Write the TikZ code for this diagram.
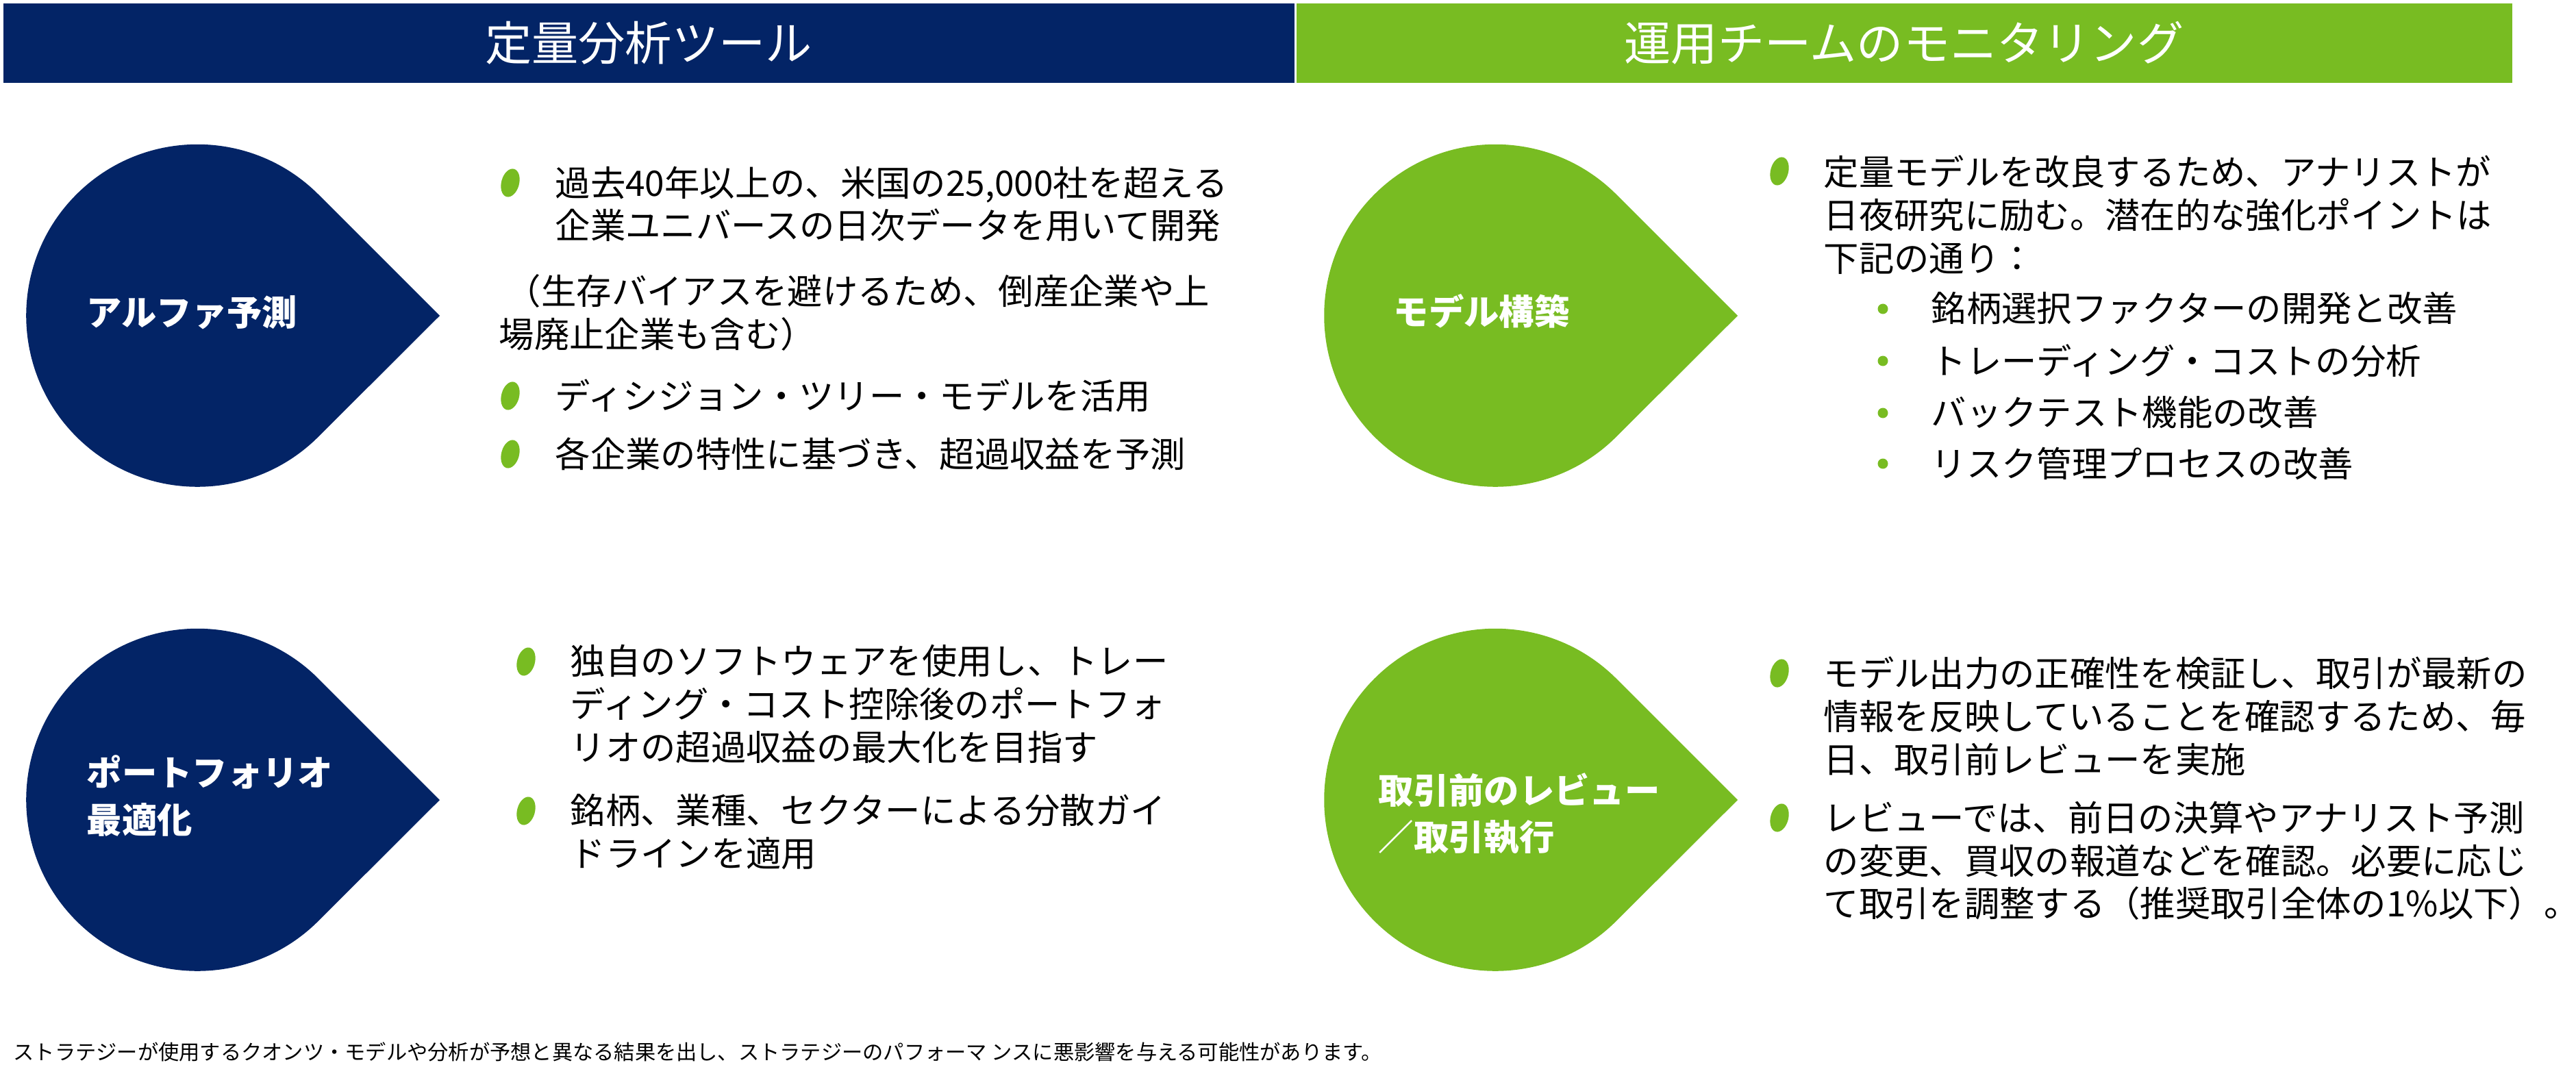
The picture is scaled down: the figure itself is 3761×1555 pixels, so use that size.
\documentclass[tikz,border=0pt]{standalone}
\usepackage{fontspec}
\setmainfont{Noto Sans CJK JP}
\usetikzlibrary{shapes.geometric}
\definecolor{navy}{HTML}{032466}
\definecolor{leafgreen}{HTML}{78BC22}
\tikzset{
  bar text/.style={inner sep=0pt, text=white, font=\fontsize{19.4}{22}\selectfont},
  drop label/.style={anchor=west, align=left, text=white, inner sep=0pt, font=\fontsize{14.6}{19.5}\selectfont\bfseries},
  body/.style={anchor=north west, align=left, inner sep=0pt, font=\fontsize{14.6}{17.9}\selectfont},
  leaf/.style={ellipse, fill=leafgreen, minimum width=26*0.01cm, minimum height=42*0.01cm, inner sep=0pt, rotate=-15},
  dot/.style={circle, fill=leafgreen, minimum size=15*0.01cm, inner sep=0pt},
}
\newcommand{\teardrop}[3]{% color, center x, center y
  \fill[#1] (#2+354,#3) -- (#2+177,#3-177) arc[start angle=-45, end angle=-315, radius=250] -- cycle;}
\begin{document}
\begin{tikzpicture}[x=0.01cm,y=-0.01cm]
  \useasboundingbox (0,0) rectangle (3761,1555);
  % header bars
  \fill[navy] (5,5) rectangle (1890,121);
  \fill[leafgreen] (1893,5) rectangle (3668,121);
  \node[bar text] (hleft) at (947,63) {定量分析ツール};
  \node[bar text] (hright) at (2780,63) {運用チームのモニタリング};
  % teardrops
  \teardrop{navy}{288}{461}
  \teardrop{navy}{288}{1168}
  \teardrop{leafgreen}{2183}{461}
  \teardrop{leafgreen}{2183}{1168}
  \node[drop label] (alpha) at (126,456) {アルファ予測};
  \node[drop label] (port) at (126,1162) {ポートフォリオ\\最適化};
  \node[drop label] (model) at (2034,454) {モデル構築};
  \node[drop label] (review) at (2012,1188) {取引前のレビュー\\／取引執行};
  % alpha
  \node[leaf] (b1) at (745,267) {};
  \node[body] (t1) at (810,242) {過去40年以上の、米国の25,000社を超える\\企業ユニバースの日次データを用いて開発};
  \node[body] (t1b) at (728,400) {\hspace{0.2em}（生存バイアスを避けるため、倒産企業や上\\場廃止企業も含む）};
  \node[leaf] (b2) at (745,578) {};
  \node[body] (t2) at (810,553) {ディシジョン・ツリー・モデルを活用};
  \node[leaf] (b3) at (745,663) {};
  \node[body] (t3) at (810,638) {各企業の特性に基づき、超過収益を予測};
  % portfolio
  \node[leaf] (b4) at (768,966) {};
  \node[body] (t4) at (832,941) {独自のソフトウェアを使用し、トレー\\ディング・コスト控除後のポートフォ\\リオの超過収益の最大化を目指す};
  \node[leaf] (b5) at (768,1184) {};
  \node[body] (t5) at (832,1159) {銘柄、業種、セクターによる分散ガイ\\ドラインを適用};
  % model
  \node[leaf] (b6) at (2598,250) {};
  \node[body] (t6) at (2662,226) {定量モデルを改良するため、アナリストが\\日夜研究に励む。潜在的な強化ポイントは\\下記の通り：};
  \foreach \y/\txt [count=\i] in {451/銘柄選択ファクターの開発と改善, 527/トレーディング・コストの分析, 603/バックテスト機能の改善, 677/リスク管理プロセスの改善}{
    \node[dot] (s\i) at (2749,\y) {};
    \node[body] (st\i) at (2819,\y-25) {\txt};
  }
  % review
  \node[leaf] (b7) at (2598,983) {};
  \node[body] (t7) at (2662,958) {モデル出力の正確性を検証し、取引が最新の\\情報を反映していることを確認するため、毎\\日、取引前レビューを実施};
  \node[leaf] (b8) at (2598,1194) {};
  \node[body] (t8) at (2662,1169) {レビューでは、前日の決算やアナリスト予測\\の変更、買収の報道などを確認。必要に応じ\\て取引を調整する（推奨取引全体の1\%以下）。};
  % footnote
  \node[anchor=west, inner sep=0pt, font=\fontsize{8.6}{10}\selectfont] (foot) at (19,1536) {ストラテジーが使用するクオンツ・モデルや分析が予想と異なる結果を出し、ストラテジーのパフォーマ ンスに悪影響を与える可能性があります。};
\end{tikzpicture}
\end{document}
